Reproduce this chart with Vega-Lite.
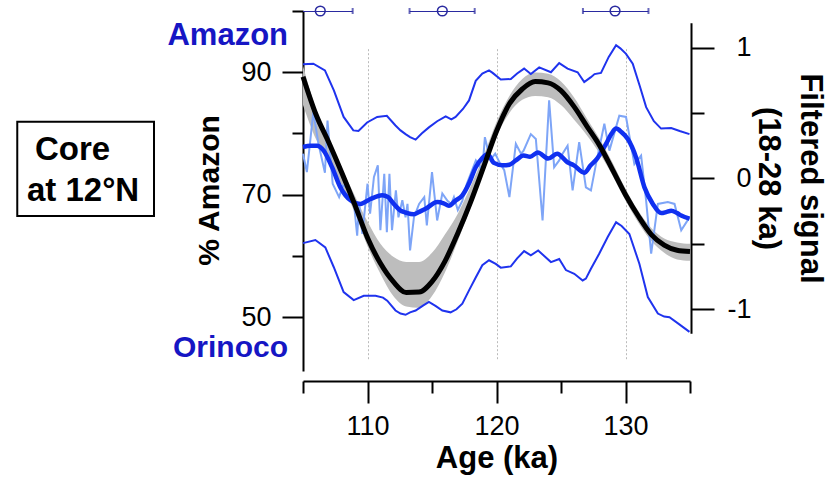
{
 "$schema": "https://vega.github.io/schema/vega-lite/v6.json",
 "width": 387,
 "height": 360,
 "autosize": "none",
 "padding": {"left": 303, "top": 11, "right": 149, "bottom": 113},
 "background": "white",
 "config": {
  "view": {"stroke": null},
  "font": "Liberation Sans",
  "axis": {
   "domainColor": "black", "domainWidth": 2, "tickColor": "black", "tickWidth": 2,
   "labelFont": "Liberation Sans", "labelFontSize": 27, "labelColor": "black",
   "titleFont": "Liberation Sans", "titleFontSize": 30, "titleFontWeight": "bold", "titleColor": "black",
   "grid": false
  }
 },
 "datasets": {
  "filt": [
   {"age":105,"f":0.777,"lo":0.56,"hi":0.86},{"age":106,"f":0.49,"lo":0.30,"hi":0.53},{"age":107,"f":0.274,"lo":0.14,"hi":0.31},
   {"age":108,"f":0.045,"lo":-0.05,"hi":0.08},{"age":109,"f":-0.197,"lo":-0.26,"hi":-0.13},{"age":110,"f":-0.454,"lo":-0.52,"hi":-0.33},
   {"age":111,"f":-0.65,"lo":-0.73,"hi":-0.50},{"age":112,"f":-0.79,"lo":-0.90,"hi":-0.60},{"age":113,"f":-0.873,"lo":-0.98,"hi":-0.64},
   {"age":114,"f":-0.87,"lo":-0.99,"hi":-0.64},{"age":115,"f":-0.79,"lo":-0.90,"hi":-0.57},{"age":116,"f":-0.635,"lo":-0.72,"hi":-0.43},
   {"age":117,"f":-0.42,"lo":-0.48,"hi":-0.27},{"age":118,"f":-0.18,"lo":-0.22,"hi":-0.06},{"age":119,"f":0.087,"lo":0.05,"hi":0.17},
   {"age":120,"f":0.36,"lo":0.32,"hi":0.43},{"age":121,"f":0.57,"lo":0.50,"hi":0.63},{"age":122,"f":0.683,"lo":0.60,"hi":0.76},
   {"age":123,"f":0.74,"lo":0.63,"hi":0.81},{"age":124,"f":0.73,"lo":0.62,"hi":0.80},{"age":125,"f":0.67,"lo":0.56,"hi":0.74},
   {"age":126,"f":0.55,"lo":0.45,"hi":0.62},{"age":127,"f":0.40,"lo":0.33,"hi":0.46},{"age":128,"f":0.25,"lo":0.19,"hi":0.30},
   {"age":129,"f":0.065,"lo":0.02,"hi":0.12},{"age":130,"f":-0.125,"lo":-0.17,"hi":-0.08},{"age":131,"f":-0.29,"lo":-0.34,"hi":-0.25},
   {"age":132,"f":-0.43,"lo":-0.48,"hi":-0.38},{"age":133,"f":-0.51,"lo":-0.57,"hi":-0.46},{"age":134,"f":-0.55,"lo":-0.62,"hi":-0.49},
   {"age":135,"f":-0.56,"lo":-0.63,"hi":-0.50}
  ],
  "raw": [
   {"age":105.0,"v":76.7},{"age":105.3,"v":73.7},{"age":105.8,"v":83.5},{"age":106.2,"v":78.3},{"age":106.7,"v":73.6},{"age":106.9,"v":82.1},
   {"age":107.3,"v":71.8},{"age":107.8,"v":69.6},{"age":108.1,"v":71.5},{"age":108.4,"v":71.2},{"age":108.7,"v":70.5},{"age":108.9,"v":69.6},
   {"age":109.2,"v":63.3},{"age":109.35,"v":68.5},{"age":109.6,"v":63.6},{"age":110.0,"v":71.8},{"age":110.2,"v":66.9},{"age":110.5,"v":72.9},
   {"age":110.8,"v":74.8},{"age":111.0,"v":64.2},{"age":111.3,"v":73.4},{"age":111.5,"v":63.9},{"age":111.7,"v":73.4},{"age":111.9,"v":64.2},
   {"age":112.2,"v":70.7},{"age":112.4,"v":66.3},{"age":112.7,"v":69.1},{"age":112.95,"v":66.3},{"age":113.1,"v":68.5},{"age":113.3,"v":60.9},
   {"age":113.6,"v":66.3},{"age":114.0,"v":68.5},{"age":114.4,"v":69.6},{"age":114.6,"v":65.0},{"age":115.0,"v":73.7},{"age":115.4,"v":65.8},
   {"age":115.8,"v":70.2},{"age":116.2,"v":69.0},{"age":116.5,"v":68.5},{"age":116.7,"v":69.6},{"age":117.0,"v":67.5},{"age":117.35,"v":69.0},
   {"age":117.7,"v":71.8},{"age":118.4,"v":75.6},{"age":118.9,"v":74.0},{"age":119.1,"v":79.4},{"age":119.4,"v":76.7},{"age":119.6,"v":75.9},
   {"age":119.9,"v":76.7},{"age":120.3,"v":75.0},{"age":120.6,"v":74.0},{"age":121.0,"v":69.6},{"age":121.5,"v":78.3},{"age":121.9,"v":76.7},
   {"age":122.1,"v":77.2},{"age":122.66,"v":79.9},{"age":123.05,"v":79.1},{"age":123.57,"v":65.8},{"age":124.08,"v":85.4},{"age":124.47,"v":74.5},
   {"age":124.86,"v":75.6},{"age":125.12,"v":76.7},{"age":125.51,"v":78.0},{"age":125.9,"v":70.7},{"age":126.41,"v":78.6},{"age":126.93,"v":71.2},
   {"age":127.32,"v":70.7},{"age":127.71,"v":75.0},{"age":128.36,"v":81.6},{"age":128.75,"v":77.2},{"age":129.52,"v":82.9},{"age":130.04,"v":82.7},
   {"age":130.69,"v":75.0},{"age":131.21,"v":76.4},{"age":131.6,"v":69.0},{"age":131.99,"v":60.4},{"age":132.51,"v":68.5},{"age":133.28,"v":68.8},
   {"age":133.8,"v":68.5},{"age":134.32,"v":64.2},{"age":134.96,"v":66.3}
  ],
  "upper": [
   {"age":105.0,"v":91.3},{"age":105.8,"v":91.4},{"age":106.7,"v":90.3},{"age":107.4,"v":87.0},{"age":108.15,"v":82.7},{"age":108.9,"v":80.5},
   {"age":109.3,"v":80.4},{"age":109.97,"v":81.8},{"age":110.75,"v":82.7},{"age":111.5,"v":82.9},{"age":112.17,"v":81.3},{"age":112.56,"v":80.5},
   {"age":112.95,"v":79.9},{"age":113.3,"v":79.4},{"age":113.73,"v":79.0},{"age":114.2,"v":80.0},{"age":114.76,"v":81.0},{"age":115.4,"v":82.0},
   {"age":116.06,"v":82.8},{"age":116.5,"v":82.3},{"age":116.83,"v":82.7},{"age":117.4,"v":84.0},{"age":117.87,"v":85.4},{"age":118.39,"v":88.6},
   {"age":118.9,"v":89.8},{"age":119.42,"v":90.3},{"age":119.7,"v":89.9},{"age":120.33,"v":88.8},{"age":121.11,"v":88.9},{"age":121.6,"v":89.8},
   {"age":122.14,"v":90.6},{"age":122.66,"v":89.7},{"age":123.31,"v":90.8},{"age":124.22,"v":90.0},{"age":124.86,"v":91.5},{"age":125.51,"v":90.6},
   {"age":126.29,"v":90.0},{"age":126.8,"v":88.4},{"age":127.32,"v":89.2},{"age":127.6,"v":89.7},{"age":128.1,"v":89.9},{"age":128.7,"v":92.5},
   {"age":129.27,"v":94.4},{"age":129.6,"v":93.9},{"age":130.04,"v":93.0},{"age":130.56,"v":91.4},{"age":131.1,"v":87.8},{"age":131.6,"v":84.3},
   {"age":132.2,"v":82.0},{"age":132.76,"v":80.8},{"age":133.54,"v":80.9},{"age":134.2,"v":80.4},{"age":134.96,"v":79.9}
  ],
  "lower": [
   {"age":105.0,"v":62.1},{"age":105.96,"v":62.6},{"age":106.73,"v":61.4},{"age":107.38,"v":58.2},{"age":108.15,"v":54.1},{"age":108.93,"v":52.8},
   {"age":109.71,"v":53.5},{"age":110.62,"v":53.5},{"age":111.2,"v":53.2},{"age":111.53,"v":52.7},{"age":112.17,"v":51.1},{"age":112.56,"v":50.6},
   {"age":112.95,"v":50.4},{"age":113.3,"v":50.8},{"age":113.73,"v":51.1},{"age":114.3,"v":51.9},{"age":114.76,"v":52.5},{"age":115.3,"v":51.8},
   {"age":115.8,"v":51.1},{"age":116.44,"v":50.8},{"age":116.9,"v":51.3},{"age":117.35,"v":52.2},{"age":117.9,"v":54.5},{"age":118.39,"v":56.5},
   {"age":118.9,"v":58.5},{"age":119.42,"v":59.3},{"age":119.94,"v":58.7},{"age":120.33,"v":58.1},{"age":121.11,"v":58.3},{"age":121.6,"v":59.6},
   {"age":122.14,"v":60.8},{"age":122.66,"v":60.1},{"age":123.23,"v":60.9},{"age":123.7,"v":60.0},{"age":124.22,"v":59.0},{"age":124.86,"v":59.5},
   {"age":125.38,"v":57.7},{"age":126.03,"v":57.1},{"age":126.68,"v":56.0},{"age":126.93,"v":56.3},{"age":127.32,"v":57.9},{"age":127.97,"v":60.4},
   {"age":128.62,"v":63.1},{"age":129.27,"v":65.5},{"age":129.7,"v":64.9},{"age":130.3,"v":63.6},{"age":131.08,"v":58.7},{"age":131.73,"v":53.3},
   {"age":132.51,"v":50.6},{"age":133.0,"v":50.1},{"age":133.41,"v":50.0},{"age":134.2,"v":48.8},{"age":134.96,"v":47.6}
  ],
  "smooth": [
   {"age":105.0,"v":77.8},{"age":105.6,"v":78.0},{"age":106.09,"v":78.0},{"age":106.6,"v":77.2},{"age":107.25,"v":74.5},{"age":107.9,"v":71.2},
   {"age":108.68,"v":69.1},{"age":109.45,"v":68.5},{"age":110.23,"v":69.3},{"age":111.14,"v":69.9},{"age":111.6,"v":69.6},{"age":111.92,"v":68.8},
   {"age":112.56,"v":67.4},{"age":112.95,"v":67.1},{"age":113.59,"v":66.8},{"age":114.0,"v":67.2},{"age":114.5,"v":67.7},{"age":115.41,"v":68.8},
   {"age":115.9,"v":68.6},{"age":116.31,"v":68.2},{"age":116.8,"v":69.0},{"age":117.35,"v":69.9},{"age":117.9,"v":72.0},{"age":118.39,"v":74.5},
   {"age":118.9,"v":76.0},{"age":119.3,"v":76.6},{"age":119.8,"v":75.2},{"age":120.5,"v":74.8},{"age":121.0,"v":74.9},{"age":121.5,"v":75.6},
   {"age":122.1,"v":76.4},{"age":122.6,"v":76.2},{"age":123.2,"v":76.9},{"age":124.0,"v":75.9},{"age":124.7,"v":76.7},{"age":125.5,"v":75.3},
   {"age":126.0,"v":74.8},{"age":126.8,"v":73.6},{"age":127.3,"v":74.8},{"age":127.8,"v":75.9},{"age":128.49,"v":78.3},{"age":128.9,"v":79.9},
   {"age":129.27,"v":80.8},{"age":129.7,"v":80.2},{"age":130.18,"v":79.1},{"age":130.82,"v":76.1},{"age":131.47,"v":71.2},{"age":132.12,"v":68.5},
   {"age":132.76,"v":67.0},{"age":133.2,"v":67.2},{"age":133.54,"v":67.4},{"age":134.0,"v":67.0},{"age":134.32,"v":66.6},{"age":134.96,"v":66.1}
  ],
  "dates": [
   {"age":106.34,"lo":103.84,"hi":108.85},
   {"age":115.8,"lo":113.26,"hi":118.31},
   {"age":129.19,"lo":126.7,"hi":131.78}
  ],
  "one": [{}]
 },
 "layer": [
  {
   "data": {"name": "filt"},
   "mark": {"type": "area", "color": "#bdbdbd", "interpolate": "monotone"},
   "encoding": {
    "x": {"field": "age", "type": "quantitative", "title": "Age (ka)",
     "scale": {"domain": [105, 135], "nice": false, "zero": false},
     "axis": {"orient": "bottom", "offset": 10, "values": [105,110,115,120,125,130,135],
      "labelExpr": "datum.value % 10 == 0 ? datum.label : ''",
      "tickSize": {"condition": {"test": "datum.value % 10 == 0", "value": 22}, "value": 12},
      "labelPadding": 10, "titlePadding": 4, "titleFontSize": 31,
      "grid": true, "gridColor": "#bbbbbb", "gridDash": [2, 2], "gridWidth": 1,
      "gridOpacity": {"condition": {"test": "datum.value % 10 == 0", "value": 1}, "value": 0}}},
    "y": {"field": "lo", "type": "quantitative",
     "scale": {"domain": [-1.185, 1.19], "range": [322.3, 11.7], "nice": false, "zero": false}, "axis": null},
    "y2": {"field": "hi"}
   }
  },
  {
   "layer": [
    {
     "data": {"name": "raw"},
     "mark": {"type": "line", "color": "#7ea5f7", "strokeWidth": 2},
     "encoding": {
      "x": {"field": "age", "type": "quantitative", "title": "Age (ka)", "scale": {"domain": [105, 135], "nice": false, "zero": false}},
      "y": {"field": "v", "type": "quantitative", "title": "% Amazon",
       "scale": {"domain": [41.22, 100], "nice": false, "zero": false},
       "axis": {"orient": "left", "values": [50,60,70,80,90,100],
        "labelExpr": "datum.value % 20 == 10 ? datum.label : ''",
        "tickSize": {"condition": {"test": "datum.value % 20 == 10", "value": 21}, "value": 11},
        "labelPadding": 11, "titleX": -79, "titleY": 179}}
     }
    },
    {
     "data": {"name": "upper"},
     "mark": {"type": "line", "color": "#1f33ee", "strokeWidth": 2},
     "encoding": {
      "x": {"field": "age", "type": "quantitative", "title": "Age (ka)", "scale": {"domain": [105, 135], "nice": false, "zero": false}},
      "y": {"field": "v", "type": "quantitative", "title": "% Amazon", "scale": {"domain": [41.22, 100], "nice": false, "zero": false}}
     }
    },
    {
     "data": {"name": "lower"},
     "mark": {"type": "line", "color": "#1f33ee", "strokeWidth": 2},
     "encoding": {
      "x": {"field": "age", "type": "quantitative", "title": "Age (ka)", "scale": {"domain": [105, 135], "nice": false, "zero": false}},
      "y": {"field": "v", "type": "quantitative", "title": "% Amazon", "scale": {"domain": [41.22, 100], "nice": false, "zero": false}}
     }
    },
    {
     "data": {"name": "smooth"},
     "mark": {"type": "line", "color": "#1030f0", "strokeWidth": 4.5, "interpolate": "monotone"},
     "encoding": {
      "x": {"field": "age", "type": "quantitative", "title": "Age (ka)", "scale": {"domain": [105, 135], "nice": false, "zero": false}},
      "y": {"field": "v", "type": "quantitative", "title": "% Amazon", "scale": {"domain": [41.22, 100], "nice": false, "zero": false}}
     }
    },
    {
     "data": {"name": "dates"},
     "mark": {"type": "rule", "color": "#2a2aa0", "strokeWidth": 2, "clip": true},
     "encoding": {
      "x": {"field": "lo", "type": "quantitative", "title": "Age (ka)", "scale": {"domain": [105, 135], "nice": false, "zero": false}},
      "x2": {"field": "hi"},
      "y": {"datum": 100, "type": "quantitative", "title": "% Amazon", "scale": {"domain": [41.22, 100], "nice": false, "zero": false}}
     }
    },
    {
     "data": {"name": "dates"},
     "transform": [{"fold": ["lo", "hi"], "as": ["end", "edge"]}, {"filter": "datum.edge >= 105"}],
     "mark": {"type": "tick", "color": "#2a2aa0", "orient": "vertical", "size": 6, "thickness": 2},
     "encoding": {
      "x": {"field": "edge", "type": "quantitative", "title": "Age (ka)", "scale": {"domain": [105, 135], "nice": false, "zero": false}},
      "y": {"datum": 100, "type": "quantitative", "title": "% Amazon", "scale": {"domain": [41.22, 100], "nice": false, "zero": false}}
     }
    },
    {
     "data": {"name": "dates"},
     "mark": {"type": "point", "shape": "circle", "filled": false, "color": "#2a2aa0", "size": 95, "strokeWidth": 1.5, "opacity": 1},
     "encoding": {
      "x": {"field": "age", "type": "quantitative", "title": "Age (ka)", "scale": {"domain": [105, 135], "nice": false, "zero": false}},
      "y": {"datum": 100, "type": "quantitative", "title": "% Amazon", "scale": {"domain": [41.22, 100], "nice": false, "zero": false}}
     }
    },
    {
     "data": {"name": "one"},
     "mark": {"type": "text", "text": "Amazon", "align": "right", "baseline": "alphabetic", "fontSize": 31, "fontWeight": "bold", "color": "#1616c4"},
     "encoding": {
      "x": {"datum": 103.84, "type": "quantitative", "title": "Age (ka)", "scale": {"domain": [105, 135], "nice": false, "zero": false}},
      "y": {"datum": 94.45, "type": "quantitative", "title": "% Amazon", "scale": {"domain": [41.22, 100], "nice": false, "zero": false}}
     }
    },
    {
     "data": {"name": "one"},
     "mark": {"type": "text", "text": "Orinoco", "align": "right", "baseline": "alphabetic", "fontSize": 30, "fontWeight": "bold", "color": "#1616c4"},
     "encoding": {
      "x": {"datum": 103.84, "type": "quantitative", "title": "Age (ka)", "scale": {"domain": [105, 135], "nice": false, "zero": false}},
      "y": {"datum": 43.5, "type": "quantitative", "title": "% Amazon", "scale": {"domain": [41.22, 100], "nice": false, "zero": false}}
     }
    },
    {
     "data": {"name": "one"},
     "mark": {"type": "rect", "fill": null, "fillOpacity": 0, "stroke": "black", "strokeWidth": 2},
     "encoding": {
      "x": {"datum": 82.85, "type": "quantitative", "title": "Age (ka)", "scale": {"domain": [105, 135], "nice": false, "zero": false}},
      "x2": {"datum": 93.45},
      "y": {"datum": 81.93, "type": "quantitative", "title": "% Amazon", "scale": {"domain": [41.22, 100], "nice": false, "zero": false}},
      "y2": {"datum": 66.53}
     }
    },
    {
     "data": {"name": "one"},
     "mark": {"type": "text", "text": "Core", "align": "left", "baseline": "alphabetic", "fontSize": 33, "fontWeight": "bold", "color": "black"},
     "encoding": {
      "x": {"datum": 84.22, "type": "quantitative", "title": "Age (ka)", "scale": {"domain": [105, 135], "nice": false, "zero": false}},
      "y": {"datum": 75.67, "type": "quantitative", "title": "% Amazon", "scale": {"domain": [41.22, 100], "nice": false, "zero": false}}
     }
    },
    {
     "data": {"name": "one"},
     "mark": {"type": "text", "text": "at 12°N", "align": "left", "baseline": "alphabetic", "fontSize": 33, "fontWeight": "bold", "color": "black"},
     "encoding": {
      "x": {"datum": 83.6, "type": "quantitative", "title": "Age (ka)", "scale": {"domain": [105, 135], "nice": false, "zero": false}},
      "y": {"datum": 69.03, "type": "quantitative", "title": "% Amazon", "scale": {"domain": [41.22, 100], "nice": false, "zero": false}}
     }
    }
   ]
  },
  {
   "data": {"name": "filt"},
   "mark": {"type": "line", "color": "black", "strokeWidth": 5, "interpolate": "monotone"},
   "encoding": {
    "x": {"field": "age", "type": "quantitative", "title": "Age (ka)", "scale": {"domain": [105, 135], "nice": false, "zero": false}},
    "y": {"field": "f", "type": "quantitative",
     "scale": {"domain": [-1.185, 1.19], "range": [322.3, 11.7], "nice": false, "zero": false},
     "axis": {"orient": "right", "offset": 1, "values": [-1, -0.5, 0, 0.5, 1],
      "labelExpr": "abs(datum.value) % 1 == 0 ? (datum.value < 0 ? '-' + abs(datum.value) : '' + datum.value) : ''",
      "tickSize": {"condition": {"test": "abs(datum.value) % 1 == 0", "value": 23}, "value": 13},
      "labelAlign": "right", "labelPadding": 37,
      "title": ["Filtered signal", "(18-28 ka)"], "titleFontSize": 31, "titleLineHeight": 42, "titlePadding": 0}}
   }
  }
 ],
 "resolve": {"scale": {"y": "independent"}}
}
